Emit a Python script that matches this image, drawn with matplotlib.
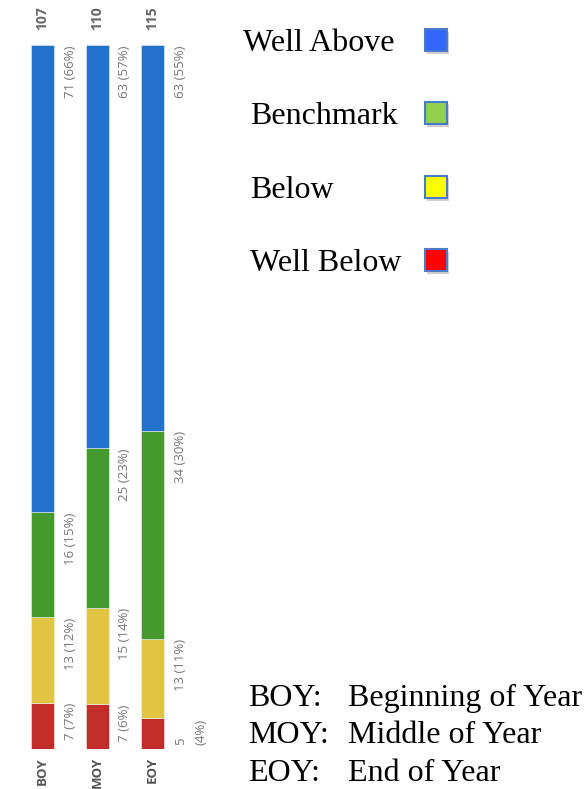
import numpy as np
import matplotlib.pyplot as plt
from matplotlib.patches import Rectangle

periods = ['BOY', 'MOY', 'EOY']
totals = [107, 110, 115]
# bottom to top: Well Below, Below, Benchmark, Well Above
well_below = [7, 7, 5]
below = [13, 15, 13]
benchmark = [16, 25, 34]
well_above = [71, 63, 63]
pct_labels = [
    ['7 (7%)', '7 (6%)', '5\n(4%)'],
    ['13 (12%)', '15 (14%)', '13 (11%)'],
    ['16 (15%)', '25 (23%)', '34 (30%)'],
    ['71 (66%)', '63 (57%)', '63 (55%)'],
]
bar_colors = ['#C12D28', '#E2C443', '#459A2E', '#2272CC']

legend_names = ['Well Above', 'Benchmark', 'Below', 'Well Below']
legend_colors = ['#3366FF', '#92D050', '#FFFF00', '#FF0000']
period_names = ['Beginning of Year', 'Middle of Year', 'End of Year']

W, H = 588, 789
fig = plt.figure(figsize=(W / 100, H / 100), dpi=100)

# axes placed in pixels: bars 23px wide, 55px apart, from y=45 to y=749
ax = fig.add_axes([15 / W, (H - 749) / H, 165 / W, 704 / H])
ax.set_xlim(-0.5, 2.5)
ax.set_ylim(0, 1)
ax.axis('off')

x = np.arange(len(periods))
series = [well_below, below, benchmark, well_above]
bottom = np.zeros(3)
for vals, col, labs in zip(series, bar_colors, pct_labels):
    frac = np.array(vals) / np.array(totals)
    ax.bar(x, frac, bottom=bottom, width=0.42, color=col,
           edgecolor='#f0f0f0', linewidth=0.4)
    top = bottom + frac
    for i in range(3):
        xi = x[i] + 0.5
        if '\n' in labs[i]:
            xi = x[i] + 0.7
        ax.text(xi, top[i], labs[i], rotation=90, ha='center', va='top',
                fontsize=9.5, color='#777777', family='Open Sans',
                multialignment='left', linespacing=1.7)
    bottom = top

for i in range(3):
    ax.text(x[i], 1 + 15 / 704, str(totals[i]), rotation=90, ha='center',
            va='bottom', fontsize=10, fontweight='bold', color='#666666',
            family='Open Sans')
    ax.text(x[i], -8 / 704, periods[i], rotation=90, ha='center', va='top',
            fontsize=9.5, fontweight='bold', color='#555555', family='Open Sans',
            clip_on=False)

# legend drawn by hand
leg_y = [40, 113, 187, 260]
leg_x = [243, 250, 250, 250]
for name, col, ty, tx in zip(legend_names, legend_colors, leg_y, leg_x):
    fig.text(tx / W, 1 - ty / H, name, ha='left', va='center_baseline',
             fontsize=23, family='Liberation Serif', color='black')
    sq_x, sq_y = 425, ty - 11
    fig.patches.append(Rectangle(((sq_x + 2) / W, 1 - (sq_y + 25) / H), 22 / W, 22 / H,
                                 transform=fig.transFigure, facecolor='#d0d0d0',
                                 edgecolor='none', zorder=1))
    fig.patches.append(Rectangle((sq_x / W, 1 - (sq_y + 22) / H), 22 / W, 22 / H,
                                 transform=fig.transFigure, facecolor=col,
                                 edgecolor='#4A7BC8', linewidth=1.5, zorder=2))

period_y = [695, 732, 770]
for p, name, ty in zip(periods, period_names, period_y):
    fig.text(248 / W, 1 - ty / H, p + ':', ha='left', va='center_baseline',
             fontsize=23, family='Liberation Serif', color='black')
    fig.text(348 / W, 1 - ty / H, name, ha='left', va='center_baseline',
             fontsize=23, family='Liberation Serif', color='black')

fig.savefig('out.png', dpi=100)
